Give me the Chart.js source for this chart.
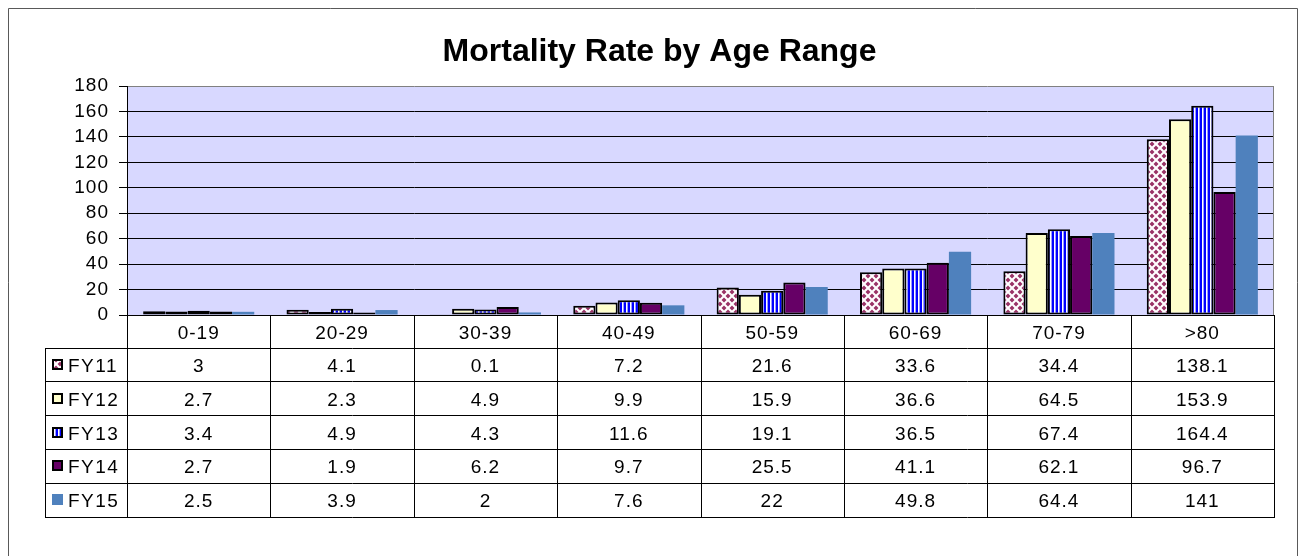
<!DOCTYPE html>
<html>
<head>
<meta charset="utf-8">
<script src="https://cdn.jsdelivr.net/npm/chart.js@4.4.1/dist/chart.umd.min.js"></script>
<style>
html, body { margin: 0; padding: 0; background: #fff; }
#wrap { width: 1303px; height: 556px; }
</style>
</head>
<body>
<div id="wrap"><canvas id="mortality_Chart"></canvas></div>
<script>
const ageRanges = ['0-19', '20-29', '30-39', '40-49', '50-59', '60-69', '70-79', '>80'];
const seriesNames = ['FY11', 'FY12', 'FY13', 'FY14', 'FY15'];
const fy11 = [3, 4.1, 0.1, 7.2, 21.6, 33.6, 34.4, 138.1];
const fy12 = [2.7, 2.3, 4.9, 9.9, 15.9, 36.6, 64.5, 153.9];
const fy13 = [3.4, 4.9, 4.3, 11.6, 19.1, 36.5, 67.4, 164.4];
const fy14 = [2.7, 1.9, 6.2, 9.7, 25.5, 41.1, 62.1, 96.7];
const fy15 = [2.5, 3.9, 2, 7.6, 22, 49.8, 64.4, 141];
const yMin = 0, yMax = 180, yStep = 20;

const FONT = "'Liberation Sans', Arial, sans-serif";
const ctx = document.getElementById('mortality_Chart').getContext('2d');

// hatch fills like the old Excel chart
function makeTile(w, h, paint) {
    const c = document.createElement('canvas');
    c.width = w; c.height = h;
    paint(c.getContext('2d'));
    return ctx.createPattern(c, 'repeat');
}
const diamonds = makeTile(8, 8, g => {
    g.fillStyle = '#fff';
    g.fillRect(0, 0, 8, 8);
    g.fillStyle = '#993366';
    [[4, 4], [0, 0], [8, 0], [0, 8], [8, 8]].forEach(([cx, cy]) => {
        g.beginPath();
        g.moveTo(cx, cy - 2.5); g.lineTo(cx + 2.5, cy); g.lineTo(cx, cy + 2.5); g.lineTo(cx - 2.5, cy);
        g.closePath();
        g.fill();
    });
});
const stripes = makeTile(4, 4, g => {
    g.fillStyle = '#0000FF'; g.fillRect(0, 0, 4, 4);
    g.fillStyle = '#ffffff'; g.fillRect(2, 0, 1, 4);
    g.fillStyle = '#9999ff'; g.fillRect(3, 0, 1, 4);
});

const fills = [diamonds, '#FFFFCC', stripes, '#660066', '#4F81BD'];
const values = [fy11, fy12, fy13, fy14, fy15];

const tablePlugin = {
    id: 'tablePlugin',
    beforeDraw(chart) {
        const c = chart.ctx, a = chart.chartArea;
        c.fillStyle = '#fff';
        c.fillRect(0, 0, chart.width, chart.height);
        c.fillStyle = '#D8D8FF';
        c.fillRect(a.left, a.top, a.right - a.left, a.bottom - a.top);
        c.letterSpacing = '1px';
    },
    beforeDatasetsDraw(chart) {
        const c = chart.ctx, a = chart.chartArea;
        c.save();
        c.strokeStyle = '#808080';
        c.lineWidth = 1;
        c.beginPath();
        c.moveTo(Math.round(a.right) - 0.5, a.top);
        c.lineTo(Math.round(a.right) - 0.5, a.bottom);
        c.stroke();
        c.restore();
    },
    afterDraw(chart) {
        const c = chart.ctx, a = chart.chartArea, xs = chart.scales.x;
        const half = (xs.getPixelForValue(1) - xs.getPixelForValue(0)) / 2;
        const bounds = ageRanges.map((_, i) => xs.getPixelForValue(i) - half);
        bounds.push(xs.getPixelForValue(ageRanges.length - 1) + half);
        const px = v => Math.round(v) + 0.5;
        const headTop = a.bottom, rowTop = 347.5, rowH = 33.8;
        const tableBottom = rowTop + rowH * seriesNames.length;
        const leftEdge = 45;

        c.save();
        c.strokeStyle = '#000';
        c.lineWidth = 1;
        c.beginPath();
        // axis line
        c.moveTo(a.left, px(headTop)); c.lineTo(px(bounds[bounds.length - 1]), px(headTop));
        // row lines
        for (let r = 0; r <= seriesNames.length; r++) {
            const y = px(rowTop + r * rowH);
            c.moveTo(leftEdge, y); c.lineTo(px(bounds[bounds.length - 1]) + 0.5, y);
        }
        // column lines
        bounds.forEach(b => { c.moveTo(px(b), headTop); c.lineTo(px(b), px(tableBottom)); });
        c.moveTo(px(leftEdge), px(rowTop)); c.lineTo(px(leftEdge), px(tableBottom));
        c.stroke();

        c.fillStyle = '#000';
        c.font = '19px ' + FONT;
        c.textAlign = 'center';
        c.textBaseline = 'alphabetic';
        c.letterSpacing = '1px';
        ageRanges.forEach((lab, i) => c.fillText(lab, xs.getPixelForValue(i), 339));
        values.forEach((arr, r) => {
            const base = rowTop + r * rowH + rowH / 2 + 7.5;
            arr.forEach((v, i) => c.fillText(String(v), xs.getPixelForValue(i), base));
        });

        // legend keys
        c.textAlign = 'left';
        c.letterSpacing = '1.5px';
        seriesNames.forEach((name, r) => {
            const mid = rowTop + r * rowH + rowH / 2;
            const kx = 52, ky = Math.round(mid - 5.5);
            c.fillStyle = fills[r];
            c.fillRect(kx, ky, 11, 11);
            if (r < 4) {
                c.lineWidth = 2;
                c.strokeStyle = '#000';
                c.strokeRect(kx + 1, ky + 1, 9, 9);
            }
            c.fillStyle = '#000';
            c.fillText(name, 68, mid + 7.5);
        });

        // title
        c.letterSpacing = '0px';
        c.textAlign = 'center';
        c.font = 'bold 32px ' + FONT;
        c.fillText('Mortality Rate by Age Range', 659.5, 61);

        // outer frame
        c.strokeStyle = '#595959';
        c.lineWidth = 1;
        c.beginPath();
        c.moveTo(8.5, chart.height); c.lineTo(8.5, 8.5); c.lineTo(1297.5, 8.5); c.lineTo(1297.5, chart.height);
        c.stroke();
        c.restore();
    }
};

const data = {
    labels: ageRanges,
    datasets: seriesNames.map((name, k) => ({
        label: name,
        data: values[k],
        backgroundColor: fills[k],
        borderColor: '#000',
        borderWidth: k < 4 ? 2 : 0,
        borderSkipped: false,
        categoryPercentage: 0.775,
        barPercentage: 1
    }))
};

const config = {
    type: 'bar',
    data: data,
    options: {
        responsive: true,
        maintainAspectRatio: false,
        animation: false,
        layout: { padding: { top: 86, right: 29, bottom: 241, left: 0 } },
        plugins: {
            legend: { display: false },
            title: { display: false },
            tooltip: { enabled: false }
        },
        scales: {
            x: { display: false },
            y: {
                min: yMin,
                max: yMax,
                ticks: { stepSize: yStep, autoSkip: false, color: '#000', padding: 10, font: { family: FONT, size: 19 } },
                grid: {
                    color: c => (c.tick && c.tick.value === yMax ? '#808080' : '#000'),
                    tickColor: '#000',
                    tickLength: 8,
                    lineWidth: 1
                },
                border: { color: '#000' },
                afterFit: s => { s.width = 127; }
            }
        }
    },
    plugins: [tablePlugin]
};

const mortalityChart = new Chart(ctx, config);
</script>
</body>
</html>
